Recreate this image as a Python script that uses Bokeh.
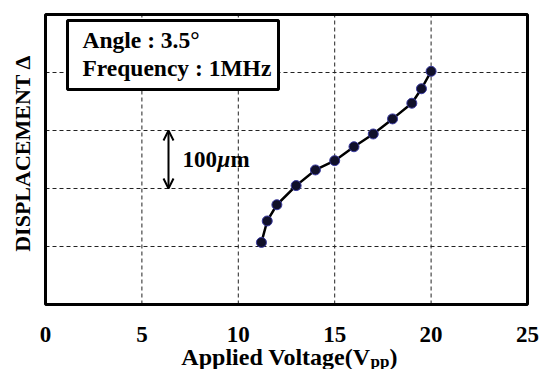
import math
from bokeh.plotting import figure
from bokeh.models import Range1d, Label, BoxAnnotation, Arrow, OpenHead
from bokeh.core.properties import value
from bokeh.embed import file_html
from bokeh.resources import INLINE

# ---- data ----
voltage = [11.2, 11.5, 12, 13, 14, 15, 16, 17, 18, 19, 19.5, 20]
displacement = [107, 144, 172, 205, 232, 248, 272, 294, 320, 347, 372, 402]
x_ticks = [0, 5, 10, 15, 20, 25]
x_tick_labels = ["0", "5", "10", "15", "20", "25"]
x_grid = [5, 10, 15, 20]
y_grid = [100, 200, 300, 400]
X0, X1 = 0, 25
Y0, Y1 = 0, 500

FONT = "Liberation Serif"

# ---- layout (pixels) ----
W, H = 541, 369
ML, MR, MT, MB = 45, 14, 14, 65          # margins around the plotting box
FW, FH = W - ML - MR, H - MT - MB
SX = (X1 - X0) / FW                      # data units per pixel
SY = (Y1 - Y0) / FH


def fx(px):
    return X0 + px * SX


def fy(px):
    return Y0 + px * SY


def mid(baseline_px, size):
    # vertical middle of a line of text whose baseline is at baseline_px
    return fy(baseline_px + 0.3375 * size)


p = figure(width=W, height=H, output_backend="svg", toolbar_location=None,
           x_range=Range1d(X0 - ML * SX, X1 + MR * SX),
           y_range=Range1d(Y0 - MB * SY, Y1 + MT * SY),
           min_border=0)
p.xaxis.visible = False
p.yaxis.visible = False
p.grid.visible = False
p.outline_line_color = None
p.background_fill_color = "white"
p.border_fill_color = "white"

# dashed grid
n = len(x_grid)
p.segment(x0=x_grid, y0=[Y0] * n, x1=x_grid, y1=[Y1] * n,
          line_color="#222222", line_width=1, line_dash="4 3")
m = len(y_grid)
p.segment(x0=[X0] * m, y0=y_grid, x1=[X1] * m, y1=y_grid,
          line_color="#222222", line_width=1, line_dash="4 3")

# curve and points
p.line(voltage, displacement, line_color="black", line_width=2.5)
p.scatter(voltage, displacement, size=10, fill_color="#10102a",
          line_color="#3a3aa0", line_width=1)

# plotting box outline
p.add_layout(BoxAnnotation(left=X0, right=X1, bottom=Y0, top=Y1,
                           fill_alpha=0, line_color="black", line_alpha=1, line_width=3))

# x tick labels
p.text(x=x_ticks, y=[fy(-30)] * len(x_ticks), text=x_tick_labels,
       text_font=value(FONT), text_font_style="bold", text_font_size="23px",
       text_color="black", text_align="center", text_baseline="alphabetic")

# x axis label with subscript
p.add_layout(Label(x=fx(325), y=mid(-61, 24), text="Applied Voltage(V", text_font=FONT,
                   text_font_style="bold", text_font_size="24px", text_color="black",
                   text_align="right", text_baseline="middle"))
p.add_layout(Label(x=fx(325), y=mid(-63, 17), text="pp", text_font=FONT,
                   text_font_style="bold", text_font_size="17px", text_color="black",
                   text_align="left", text_baseline="middle"))
p.add_layout(Label(x=fx(344), y=mid(-61, 24), text=")", text_font=FONT,
                   text_font_style="bold", text_font_size="24px", text_color="black",
                   text_align="left", text_baseline="middle"))

# y axis label
p.add_layout(Label(x=fx(-23), y=fy(151), angle=math.pi / 2, text="DISPLACEMENT Δ",
                   text_font=FONT, text_font_style="bold", text_font_size="22px",
                   text_color="black", text_align="center", text_baseline="middle"))

# info box
p.add_layout(BoxAnnotation(left=fx(22), right=fx(233), bottom=fy(215), top=fy(284),
                           fill_color="white", fill_alpha=1,
                           line_color="black", line_alpha=1, line_width=3))
for txt, by in (("Angle : 3.5°", 257), ("Frequency : 1MHz", 229)):
    p.add_layout(Label(x=fx(37), y=mid(by, 23.5), text=txt, text_font=FONT,
                       text_font_style="bold", text_font_size="23.5px", text_color="black",
                       text_baseline="middle"))

# 100 um scale arrow
p.add_layout(Arrow(x_start=fx(123), y_start=y_grid[1], x_end=fx(123), y_end=y_grid[2],
                   line_width=2, line_color="black",
                   start=OpenHead(size=10, line_width=2, line_color="black"),
                   end=OpenHead(size=10, line_width=2, line_color="black")))
for txt, off, style in (("100", 0, "bold"), ("μ", 35, "bold italic"), ("m", 48, "bold")):
    p.add_layout(Label(x=fx(137 + off), y=mid(137, 23), text=txt, text_font=FONT,
                       text_font_style=style, text_font_size="23px", text_color="black",
                       text_baseline="middle"))

open("out.html", "w").write(file_html(p, INLINE))
